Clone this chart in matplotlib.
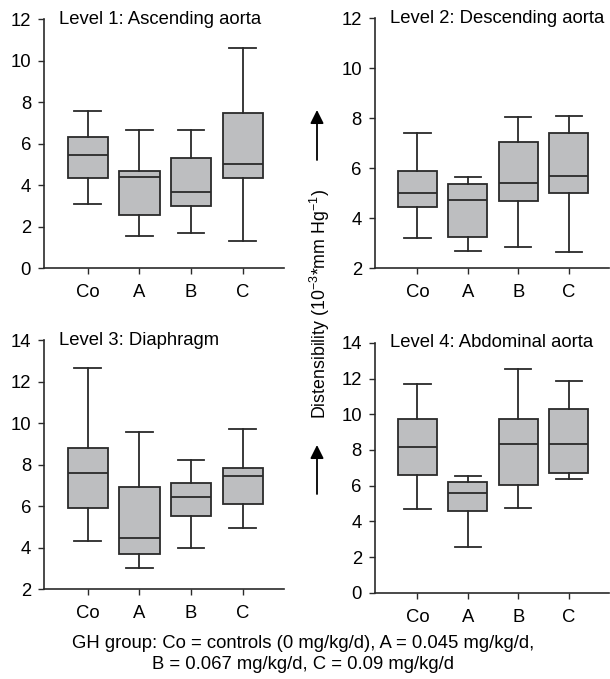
import matplotlib
matplotlib.use('Agg')
import matplotlib.pyplot as plt

plt.rcParams['font.family'] = ['Liberation Sans', 'DejaVu Sans']
plt.rcParams['mathtext.fontset'] = 'custom'
plt.rcParams['mathtext.rm'] = 'Liberation Sans'
plt.rcParams['mathtext.it'] = 'Liberation Sans:italic'
plt.rcParams['mathtext.bf'] = 'Liberation Sans:bold'

# Data
groups = ['Co', 'A', 'B', 'C']
titles = ['Level 1: Ascending aorta', 'Level 2: Descending aorta',
          'Level 3: Diaphragm', 'Level 4: Abdominal aorta']

# per level: lower whisker, Q1, median, Q3, upper whisker (one value per group)
whislo = [[3.10, 1.56, 1.72, 1.32],
          [3.21, 2.71, 2.84, 2.64],
          [4.33, 3.01, 3.97, 4.94],
          [4.69, 2.58, 4.72, 6.37]]
q1 = [[4.33, 2.55, 2.98, 4.35],
      [4.45, 3.27, 4.68, 5.03],
      [5.93, 3.70, 5.55, 6.09],
      [6.57, 4.59, 6.01, 6.70]]
med = [[5.44, 4.38, 3.67, 5.01],
       [5.03, 4.75, 5.40, 5.68],
       [7.58, 4.47, 6.43, 7.47],
       [8.14, 5.56, 8.31, 8.31]]
q3 = [[6.31, 4.68, 5.29, 7.49],
      [5.88, 5.37, 7.05, 7.41],
      [8.82, 6.93, 7.10, 7.82],
      [9.74, 6.20, 9.71, 10.32]]
whishi = [[7.59, 6.66, 6.64, 10.59],
          [7.43, 5.64, 8.05, 8.09],
          [12.64, 9.57, 8.24, 9.73],
          [11.72, 6.53, 12.51, 11.85]]

ylims = [(0, 12), (2, 12), (2, 14), (0, 14)]
yticks = [[0, 2, 4, 6, 8, 10, 12],
          [2, 4, 6, 8, 10, 12],
          [2, 4, 6, 8, 10, 12, 14],
          [0, 2, 4, 6, 8, 10, 12, 14]]

caption = ('GH group: Co = controls (0 mg/kg/d), A = 0.045 mg/kg/d,\n'
           'B = 0.067 mg/kg/d, C = 0.09 mg/kg/d')
ylabel = r'Distensibility (10$^{-3}$*mm Hg$^{-1}$)'

# axes rectangles in figure fractions
rects = [[0.0726, 0.6049, 0.393, 0.367],
         [0.6148, 0.6049, 0.3836, 0.368],
         [0.0726, 0.1321, 0.393, 0.367],
         [0.6148, 0.1271, 0.3836, 0.368]]

edge = '#2a2a2a'
face = '#bdbec0'
lw = 1.3
fs = 13.3

fig = plt.figure(figsize=(6.1, 6.79), dpi=100)

for i in range(4):
    ax = fig.add_axes(rects[i])
    stats = []
    for j, g in enumerate(groups):
        stats.append({'label': g, 'whislo': whislo[i][j], 'q1': q1[i][j],
                      'med': med[i][j], 'q3': q3[i][j],
                      'whishi': whishi[i][j], 'fliers': []})
    ax.bxp(stats, positions=[1, 2, 3, 4], widths=0.78, capwidths=0.52,
           showfliers=False, patch_artist=True,
           boxprops=dict(facecolor=face, edgecolor=edge, linewidth=lw),
           medianprops=dict(color=edge, linewidth=lw),
           whiskerprops=dict(color=edge, linewidth=lw),
           capprops=dict(color=edge, linewidth=lw))
    ax.set_xlim(0.16, 4.8)
    ax.set_ylim(*ylims[i])
    ax.set_yticks(yticks[i])
    ax.set_xticks([1, 2, 3, 4])
    ax.set_xticklabels(groups)
    for side in ['top', 'right']:
        ax.spines[side].set_visible(False)
    for side in ['left', 'bottom']:
        ax.spines[side].set_linewidth(1.2)
        ax.spines[side].set_color(edge)
    ax.tick_params(axis='both', labelsize=fs, length=4.5, width=1.0,
                   color=edge)
    ax.tick_params(axis='x', pad=7)
    ax.tick_params(axis='y', pad=5)
    ax.patch.set_visible(False)
    ax.text(0.062, 1.0, titles[i], transform=ax.transAxes, ha='left',
            va='center', fontsize=fs)

# shared y label with arrows
fig.text(0.525, 0.552, ylabel, rotation=90, ha='center', va='center',
         fontsize=12.8)
for tail, tip in [(160, 110), (494, 445)]:
    fig.add_artist(matplotlib.patches.FancyArrowPatch(
        (317 / 610, 1 - tail / 679), (317 / 610, 1 - tip / 679),
        transform=fig.transFigure, arrowstyle='-|>', mutation_scale=20,
        color='black', linewidth=1.3, shrinkA=0, shrinkB=0))

fig.text(0.497, 1 - 654 / 679, caption, ha='center', va='center',
         fontsize=fs, linespacing=1.25, multialignment='center')

fig.savefig('out.png', dpi=100)
